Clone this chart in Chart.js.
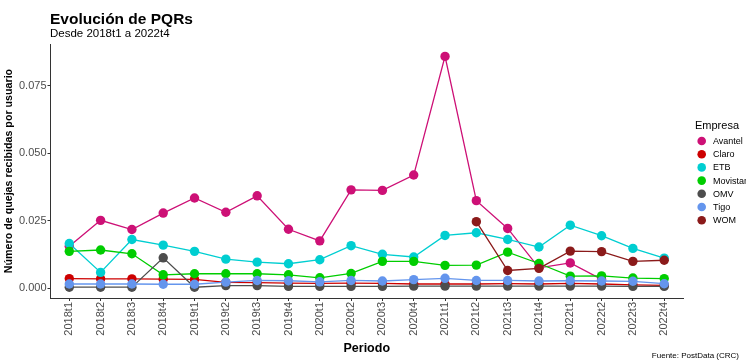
<!DOCTYPE html>
<html>
<head>
<meta charset="utf-8">
<script src="https://cdn.jsdelivr.net/npm/chart.js@4/dist/chart.umd.min.js"></script>
<style>
  html, body { margin: 0; padding: 0; background: #fff; }
</style>
</head>
<body>
<canvas id="pqrChart" width="746" height="362"></canvas>
<script>
// Periodos (eje x)
const periodos = ['2018t1', '2018t2', '2018t3', '2018t4', '2019t1', '2019t2', '2019t3', '2019t4',
    '2020t1', '2020t2', '2020t3', '2020t4', '2021t1', '2021t2', '2021t3', '2021t4',
    '2022t1', '2022t2', '2022t3', '2022t4'];

// Quejas por usuario, por empresa (null = sin dato)
const avantel  = [0.0155, 0.0251, 0.0217, 0.0278, 0.0334, 0.0281, 0.0342, 0.0218, 0.0175, 0.0364,
    0.0362, 0.0419, 0.0859, 0.0324, 0.0221, 0.0075, 0.0093, 0.0032, null, null];
const claro    = [0.0035, 0.0034, 0.0034, 0.0033, 0.0032, 0.0021, 0.0020, 0.0018, 0.0017, 0.0018,
    0.0017, 0.0015, 0.0015, 0.0015, 0.0016, 0.0015, 0.0017, 0.0015, 0.0012, 0.0010];
const etb      = [0.0165, 0.0058, 0.0180, 0.0159, 0.0136, 0.0107, 0.0096, 0.0090, 0.0105, 0.0157,
    0.0125, 0.0115, 0.0195, 0.0205, 0.0180, 0.0152, 0.0233, 0.0194, 0.0147, 0.0111];
const movistar = [0.0136, 0.0141, 0.0127, 0.0049, 0.0053, 0.0053, 0.0053, 0.0049, 0.0038, 0.0054,
    0.0099, 0.0099, 0.0084, 0.0085, 0.0133, 0.0091, 0.0044, 0.0045, 0.0037, 0.0035];
const omv      = [0.0003, 0.0003, 0.0003, 0.0112, 0.0003, 0.0009, 0.0009, 0.0006, 0.0006, 0.0006,
    0.0006, 0.0007, 0.0007, 0.0007, 0.0007, 0.0007, 0.0007, 0.0007, 0.0006, 0.0006];
const tigo     = [0.0015, 0.0015, 0.0015, 0.0014, 0.0014, 0.0022, 0.0028, 0.0027, 0.0023, 0.0028,
    0.0026, 0.0031, 0.0036, 0.0028, 0.0028, 0.0026, 0.0027, 0.0026, 0.0025, 0.0016];
const wom      = [null, null, null, null, null, null, null, null, null, null,
    null, null, null, 0.0246, 0.0065, 0.0073, 0.0137, 0.0135, 0.0099, 0.0103];

const empresas = ['Avantel', 'Claro', 'ETB', 'Movistar', 'OMV', 'Tigo', 'WOM'];
const series = [avantel, claro, etb, movistar, omv, tigo, wom];
const colores = ['#CD1076', '#CD0000', '#00CED1', '#00CD00', '#4D4D4D', '#6495ED', '#8B1A1A'];
const yTicks = [0, 0.025, 0.05, 0.075];

const datasets = series.map((valores, i) => ({
    label: empresas[i],
    data: valores.map((v, j) => ({ x: j, y: v })).filter(p => p.y !== null),
    borderColor: colores[i],
    backgroundColor: colores[i],
    pointBackgroundColor: colores[i],
    pointBorderWidth: 0,
    pointRadius: 4.7,
    borderWidth: 1.3,
    tension: 0,
    order: series.length - i
}));

// Title, subtitle, source note and legend drawn by hand (ggplot style layout)
const extras = {
    id: 'extras',
    afterDraw(chart) {
        const c = chart.ctx;
        c.save();
        c.fillStyle = '#000';
        c.textAlign = 'left';
        c.textBaseline = 'alphabetic';
        c.font = 'bold 15.5px "Liberation Sans", Arial, sans-serif';
        c.fillText('Evolución de PQRs', 50, 23.5);
        c.font = '11.5px "Liberation Sans", Arial, sans-serif';
        c.fillText('Desde 2018t1 a 2022t4', 50, 37);

        c.font = '8px "Liberation Sans", Arial, sans-serif';
        c.textAlign = 'right';
        c.fillText('Fuente: PostData (CRC)', 739, 358);

        // legend
        c.textAlign = 'left';
        c.font = '11px "Liberation Sans", Arial, sans-serif';
        c.fillText('Empresa', 695, 128.5);
        c.font = '9px "Liberation Sans", Arial, sans-serif';
        c.textBaseline = 'middle';
        empresas.forEach((name, i) => {
            const y = 141 + i * 13.2;
            c.fillStyle = colores[i];
            c.beginPath();
            c.arc(701.7, y, 4.3, 0, Math.PI * 2);
            c.fill();
            c.fillStyle = '#000';
            c.fillText(name, 713, y + 0.5);
        });
        c.restore();
    }
};

new Chart(document.getElementById('pqrChart').getContext('2d'), {
    type: 'line',
    data: { datasets: datasets },
    options: {
        responsive: false,
        animation: false,
        layout: { padding: { top: 44, right: 63, left: 0, bottom: 0 } },
        plugins: {
            legend: { display: false },
            tooltip: { enabled: false }
        },
        scales: {
            x: {
                type: 'linear',
                min: -0.6,
                max: 19.6,
                afterFit: (scale) => { scale.height = 64; },
                afterBuildTicks: (scale) => {
                    scale.ticks = periodos.map((_, i) => ({ value: i }));
                },
                ticks: {
                    autoSkip: false,
                    minRotation: 90,
                    maxRotation: 90,
                    padding: 1,
                    color: '#4D4D4D',
                    font: { family: '"Liberation Sans", Arial, sans-serif', size: 11 },
                    callback: (v) => periodos[v]
                },
                grid: { drawOnChartArea: false, drawTicks: true, tickLength: 3, color: '#333' },
                border: { display: true, color: '#333', width: 1 },
                title: {
                    display: true,
                    text: 'Periodo',
                    color: '#000',
                    font: { family: '"Liberation Sans", Arial, sans-serif', size: 12.5, weight: 'bold' },
                    padding: { top: 6, bottom: 6 }
                }
            },
            y: {
                min: -0.0037,
                max: 0.0905,
                afterFit: (scale) => { scale.width = 50.5; },
                afterBuildTicks: (scale) => {
                    scale.ticks = yTicks.map(v => ({ value: v }));
                },
                ticks: {
                    padding: 1,
                    color: '#4D4D4D',
                    font: { family: '"Liberation Sans", Arial, sans-serif', size: 11 },
                    callback: (v) => v.toFixed(3)
                },
                grid: { drawOnChartArea: false, drawTicks: true, tickLength: 3, color: '#333' },
                border: { display: true, color: '#333', width: 1 },
                title: {
                    display: true,
                    text: 'Número de quejas recibidas por usuario',
                    color: '#000',
                    font: { family: '"Liberation Sans", Arial, sans-serif', size: 10.7, weight: 'bold' },
                    padding: { top: 3, bottom: 0 }
                }
            }
        }
    },
    plugins: [extras]
});
</script>
</body>
</html>
